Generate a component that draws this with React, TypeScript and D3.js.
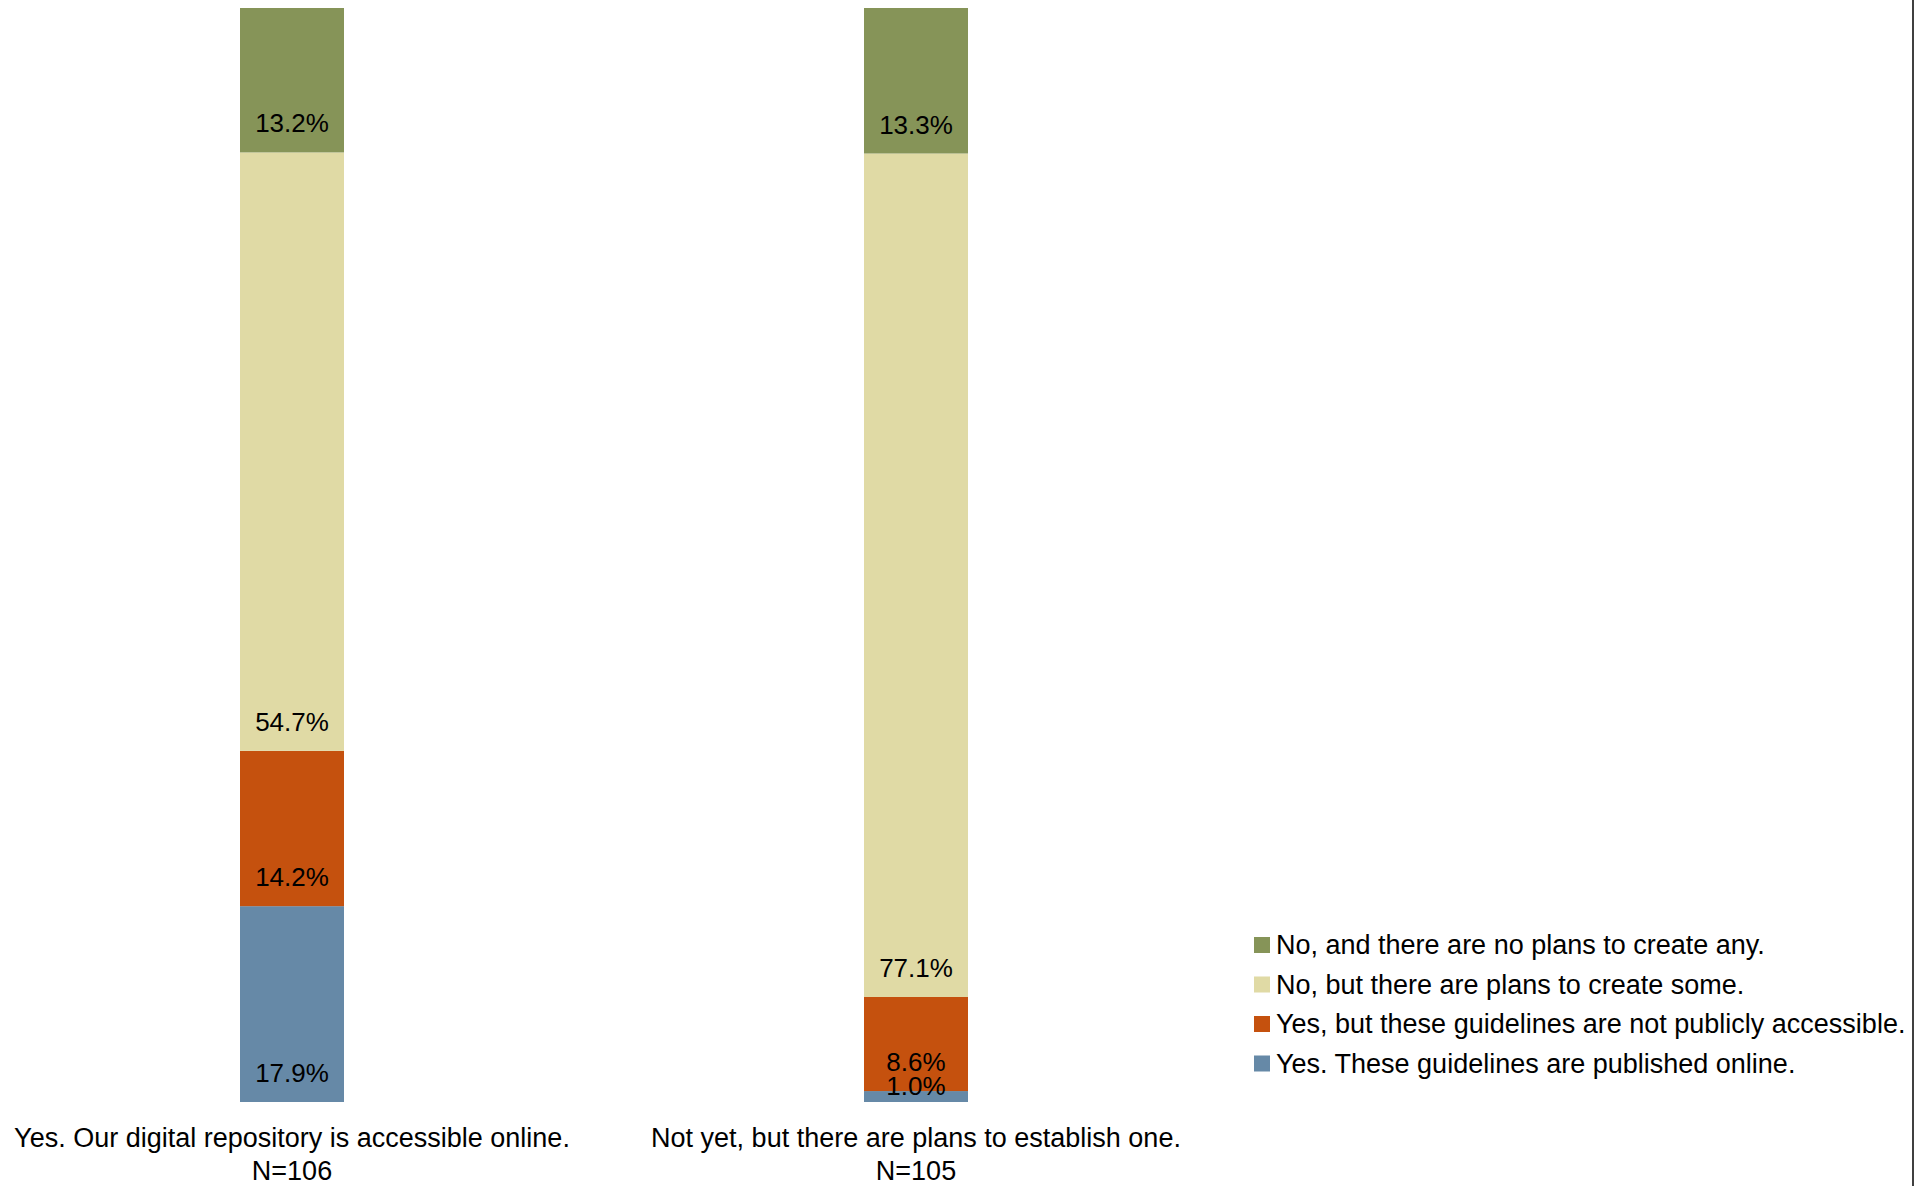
import React from "react";
import * as d3 from "d3";

const categories = [
  "Yes. Our digital repository is accessible online.",
  "Not yet, but there are plans to establish one.",
];
const sampleSizes = ["N=106", "N=105"];
const seriesNames = [
  "Yes. These guidelines are published online.",
  "Yes, but these guidelines are not publicly accessible.",
  "No, but there are plans to create some.",
  "No, and there are no plans to create any.",
];
const publishedOnline = [17.9, 1.0];
const notPublic = [14.2, 8.6];
const plansToCreate = [54.7, 77.1];
const noPlans = [13.2, 13.3];
const seriesColors = ["#6689A7", "#C5510E", "#E0DAA5", "#869458"];

const W = 1928;
const H = 1186;
const FONT = "Liberation Sans, Arial, sans-serif";

export default function App() {
  const seriesValues = [publishedOnline, notPublic, plansToCreate, noPlans];
  const rows = categories.map((c, i) => {
    const r: any = { cat: c };
    seriesNames.forEach((s, k) => (r[s] = seriesValues[k][i]));
    return r;
  });
  const stacked = d3.stack<any>().keys(seriesNames)(rows);

  const x = d3.scalePoint<string>().domain(categories).range([292, 916]);
  const barW = 104;
  const y = d3.scaleLinear().domain([0, 100]).range([1102, 8]);

  const legendOrder = [3, 2, 1, 0];
  const legendX = 1254;
  const legendY0 = 937;
  const legendStep = 39.5;

  return (
    <svg
      width={W}
      height={H}
      style={{ position: "absolute", left: 0, top: 0, background: "#fff" }}
      fontFamily={FONT}
    >
      <rect x={0} y={0} width={W} height={H} fill="#fff" />
      {stacked.map((layer, k) => (
        <g key={layer.key}>
          {layer.map((d, i) => {
            const cx = x(categories[i])!;
            const top = y(d[1]);
            const bottom = y(d[0]);
            return (
              <rect
                key={i}
                x={cx - barW / 2}
                y={top}
                width={barW}
                height={bottom - top}
                fill={seriesColors[k]}
              />
            );
          })}
        </g>
      ))}
      {stacked.map((layer, k) => (
        <g key={"l" + layer.key}>
          {layer.map((d, i) => {
            const cx = x(categories[i])!;
            const top = y(d[1]);
            const bottom = y(d[0]);
            const base = Math.max(bottom - 20, top + 4);
            return (
              <text
                key={i}
                x={cx}
                y={base}
                textAnchor="middle"
                fontSize={26}
                fill="#000"
              >
                {seriesValues[k][i].toFixed(1) + "%"}
              </text>
            );
          })}
        </g>
      ))}
      {categories.map((c, i) => (
        <g key={"c" + i}>
          <text x={x(c)!} y={1147} textAnchor="middle" fontSize={27} fill="#000">
            {c}
          </text>
          <text x={x(c)!} y={1180} textAnchor="middle" fontSize={27} fill="#000">
            {sampleSizes[i]}
          </text>
        </g>
      ))}
      {legendOrder.map((k, j) => (
        <g key={"leg" + k} transform={`translate(${legendX},${legendY0 + j * legendStep})`}>
          <rect x={0} y={0} width={16} height={16} fill={seriesColors[k]} />
          <text x={22} y={17} fontSize={27} fill="#000">
            {seriesNames[k]}
          </text>
        </g>
      ))}
      <line x1={1913} y1={0} x2={1913} y2={H} stroke="#404040" strokeWidth={2} />
    </svg>
  );
}
